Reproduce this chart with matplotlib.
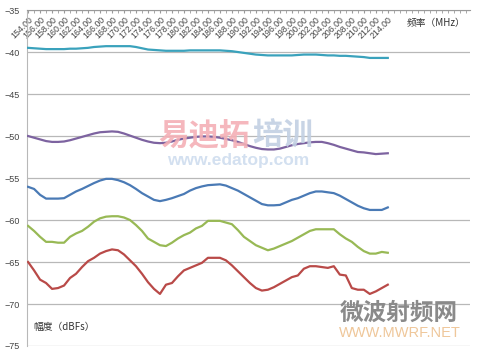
import matplotlib.pyplot as plt
import numpy as np

plt.rcParams['font.family'] = ['Liberation Sans', 'Noto Sans CJK SC', 'DejaVu Sans']

#%% data, 154..214 MHz in 1 MHz steps
freq = np.arange(154, 215)

teal = [-39.5, -39.55, -39.6, -39.65, -39.65, -39.65, -39.65, -39.6, -39.6, -39.55,
        -39.5, -39.4, -39.35, -39.3, -39.3, -39.3, -39.3, -39.3, -39.4, -39.55,
        -39.7, -39.75, -39.8, -39.85, -39.85, -39.85, -39.85, -39.8, -39.8, -39.8,
        -39.8, -39.8, -39.8, -39.85, -39.9, -40.0, -40.1, -40.2, -40.3, -40.35,
        -40.4, -40.4, -40.4, -40.4, -40.4, -40.35, -40.3, -40.3, -40.3, -40.35,
        -40.4, -40.4, -40.45, -40.45, -40.5, -40.55, -40.6, -40.7, -40.7, -40.7,
        -40.7]

purple = [-50.0, -50.2, -50.4, -50.6, -50.7, -50.7, -50.65, -50.5, -50.3, -50.1,
          -49.9, -49.7, -49.55, -49.5, -49.45, -49.5, -49.7, -49.95, -50.2, -50.45,
          -50.65, -50.8, -50.85, -50.8, -50.65, -50.45, -50.3, -50.2, -50.1, -50.05,
          -50.05, -50.1, -50.2, -50.35, -50.5, -50.7, -50.95, -51.2, -51.4, -51.55,
          -51.6, -51.6, -51.5, -51.3, -51.1, -50.95, -50.85, -50.75, -50.7, -50.7,
          -50.85, -51.05, -51.3, -51.5, -51.7, -51.9, -51.95, -52.05, -52.15, -52.1,
          -52.05]

blue = [-56.05, -56.3, -57.0, -57.45, -57.45, -57.45, -57.4, -57.0, -56.6, -56.3,
        -55.95, -55.6, -55.3, -55.1, -55.1, -55.25, -55.5, -55.85, -56.3, -56.8,
        -57.2, -57.6, -57.75, -57.6, -57.4, -57.15, -56.9, -56.5, -56.2, -56.0,
        -55.85, -55.8, -55.75, -55.9, -56.2, -56.5, -56.9, -57.3, -57.7, -58.1,
        -58.25, -58.25, -58.2, -57.9, -57.6, -57.4, -57.1, -56.8, -56.6, -56.6,
        -56.7, -56.8, -57.1, -57.5, -57.9, -58.3, -58.6, -58.8, -58.8, -58.8,
        -58.5]

green = [-60.7, -61.3, -62.0, -62.6, -62.6, -62.7, -62.7, -62.0, -61.6, -61.3,
         -60.8, -60.2, -59.8, -59.6, -59.55, -59.55, -59.7, -60.0, -60.6, -61.3,
         -62.2, -62.6, -63.0, -63.1, -62.7, -62.2, -61.8, -61.5, -61.0, -60.7,
         -60.1, -60.1, -60.1, -60.3, -60.5, -61.2, -62.0, -62.5, -63.0, -63.3,
         -63.6, -63.4, -63.1, -62.8, -62.5, -62.1, -61.7, -61.3, -61.1, -61.1,
         -61.1, -61.1, -61.7, -62.2, -62.6, -63.2, -63.7, -64.0, -64.0, -63.8,
         -63.9]

red = [-65.0, -66.0, -67.1, -67.5, -68.2, -68.1, -67.8, -66.9, -66.4, -65.6,
       -64.9, -64.5, -64.0, -63.7, -63.5, -63.6, -64.1, -64.8, -65.5, -66.4,
       -67.4, -68.2, -68.8, -67.7, -67.5, -66.7, -66.0, -65.7, -65.4, -65.1,
       -64.5, -64.5, -64.5, -64.8, -65.4, -66.1, -66.8, -67.5, -68.1, -68.4,
       -68.3, -68.0, -67.6, -67.2, -66.8, -66.6, -65.8, -65.5, -65.5, -65.6,
       -65.7, -65.5, -66.5, -66.6, -68.1, -68.3, -68.3, -68.8, -68.5, -68.1,
       -67.7]

series = [(teal, '#3aa2bc'), (purple, '#7d63a0'), (blue, '#4a7ab5'),
          (green, '#98b955'), (red, '#b94a48')]

label_freqs = np.arange(154, 215, 2)
label_texts = ['%.2f' % f for f in label_freqs]

#%% plot
fig = plt.figure(figsize=(4.8, 3.54), dpi=100)
ax = fig.add_axes([0.056, 0.0226, 0.923, 0.949])

for vals, col in series:
    ax.plot(freq, vals, color=col, lw=1.6, solid_joinstyle='round', zorder=3)

ax.set_xlim(153.8, 227.7)
ax.set_ylim(-75, -35)
ax.set_yticks(np.arange(-75, -34, 5))
ax.yaxis.grid(True, color='#b8b8b8', lw=0.9)
ax.set_axisbelow(True)

# category axis sits on top (at -35), labels hang below it
ax.xaxis.tick_top()
ax.set_xticks(np.arange(154, 228, 1), minor=True)
ax.set_xticks(label_freqs)
ax.set_xticklabels(label_texts, rotation=45, ha='right', va='top',
                   rotation_mode='anchor', fontsize=6.3, color='#444444')
ax.tick_params(axis='x', which='both', direction='in', length=2.5,
               color='#999999', pad=-3.5)
ax.tick_params(axis='y', length=0, labelsize=6.5, labelcolor='#444444', pad=5)

for s in ['right', 'bottom']:
    ax.spines[s].set_visible(False)
ax.spines['top'].set_color('#999999')
ax.spines['left'].set_color('#b8b8b8')

# axis titles
fig.text(407 / 480, 1 - 23 / 354, '频率（MHz）', fontsize=7, color='#333333',
         family=['Noto Sans CJK SC'], va='center', ha='left')
fig.text(33 / 480, 1 - 327 / 354, '幅度（dBFs）', fontsize=7, color='#333333',
         family=['Noto Sans CJK SC'], va='center', ha='left')

# watermarks
fig.text(158 / 480, 1 - 136 / 354, '易迪拓', fontsize=22, color='#f4b0b6',
         family=['Noto Sans CJK SC'], weight='bold', va='center', ha='left', alpha=0.9)
fig.text(252 / 480, 1 - 136 / 354, '培训', fontsize=22, color='#c2d0e3',
         family=['Noto Sans CJK SC'], weight='bold', va='center', ha='left', alpha=0.9)
fig.text(238 / 480, 1 - 160 / 354, 'www.edatop.com', fontsize=12.5, color='#d3e0f0',
         weight='bold', va='center', ha='center')
fig.text(340 / 480, 1 - 313 / 354, '微波射频网', fontsize=17, color='#8a8a8a',
         family=['Noto Sans CJK SC'], weight='bold', va='center', ha='left')
fig.text(400 / 480, 1 - 333 / 354, 'WWW.MWRF.NET', fontsize=10.5, color='#efc79a',
         va='center', ha='center')

fig.savefig('out.png', dpi=100)
